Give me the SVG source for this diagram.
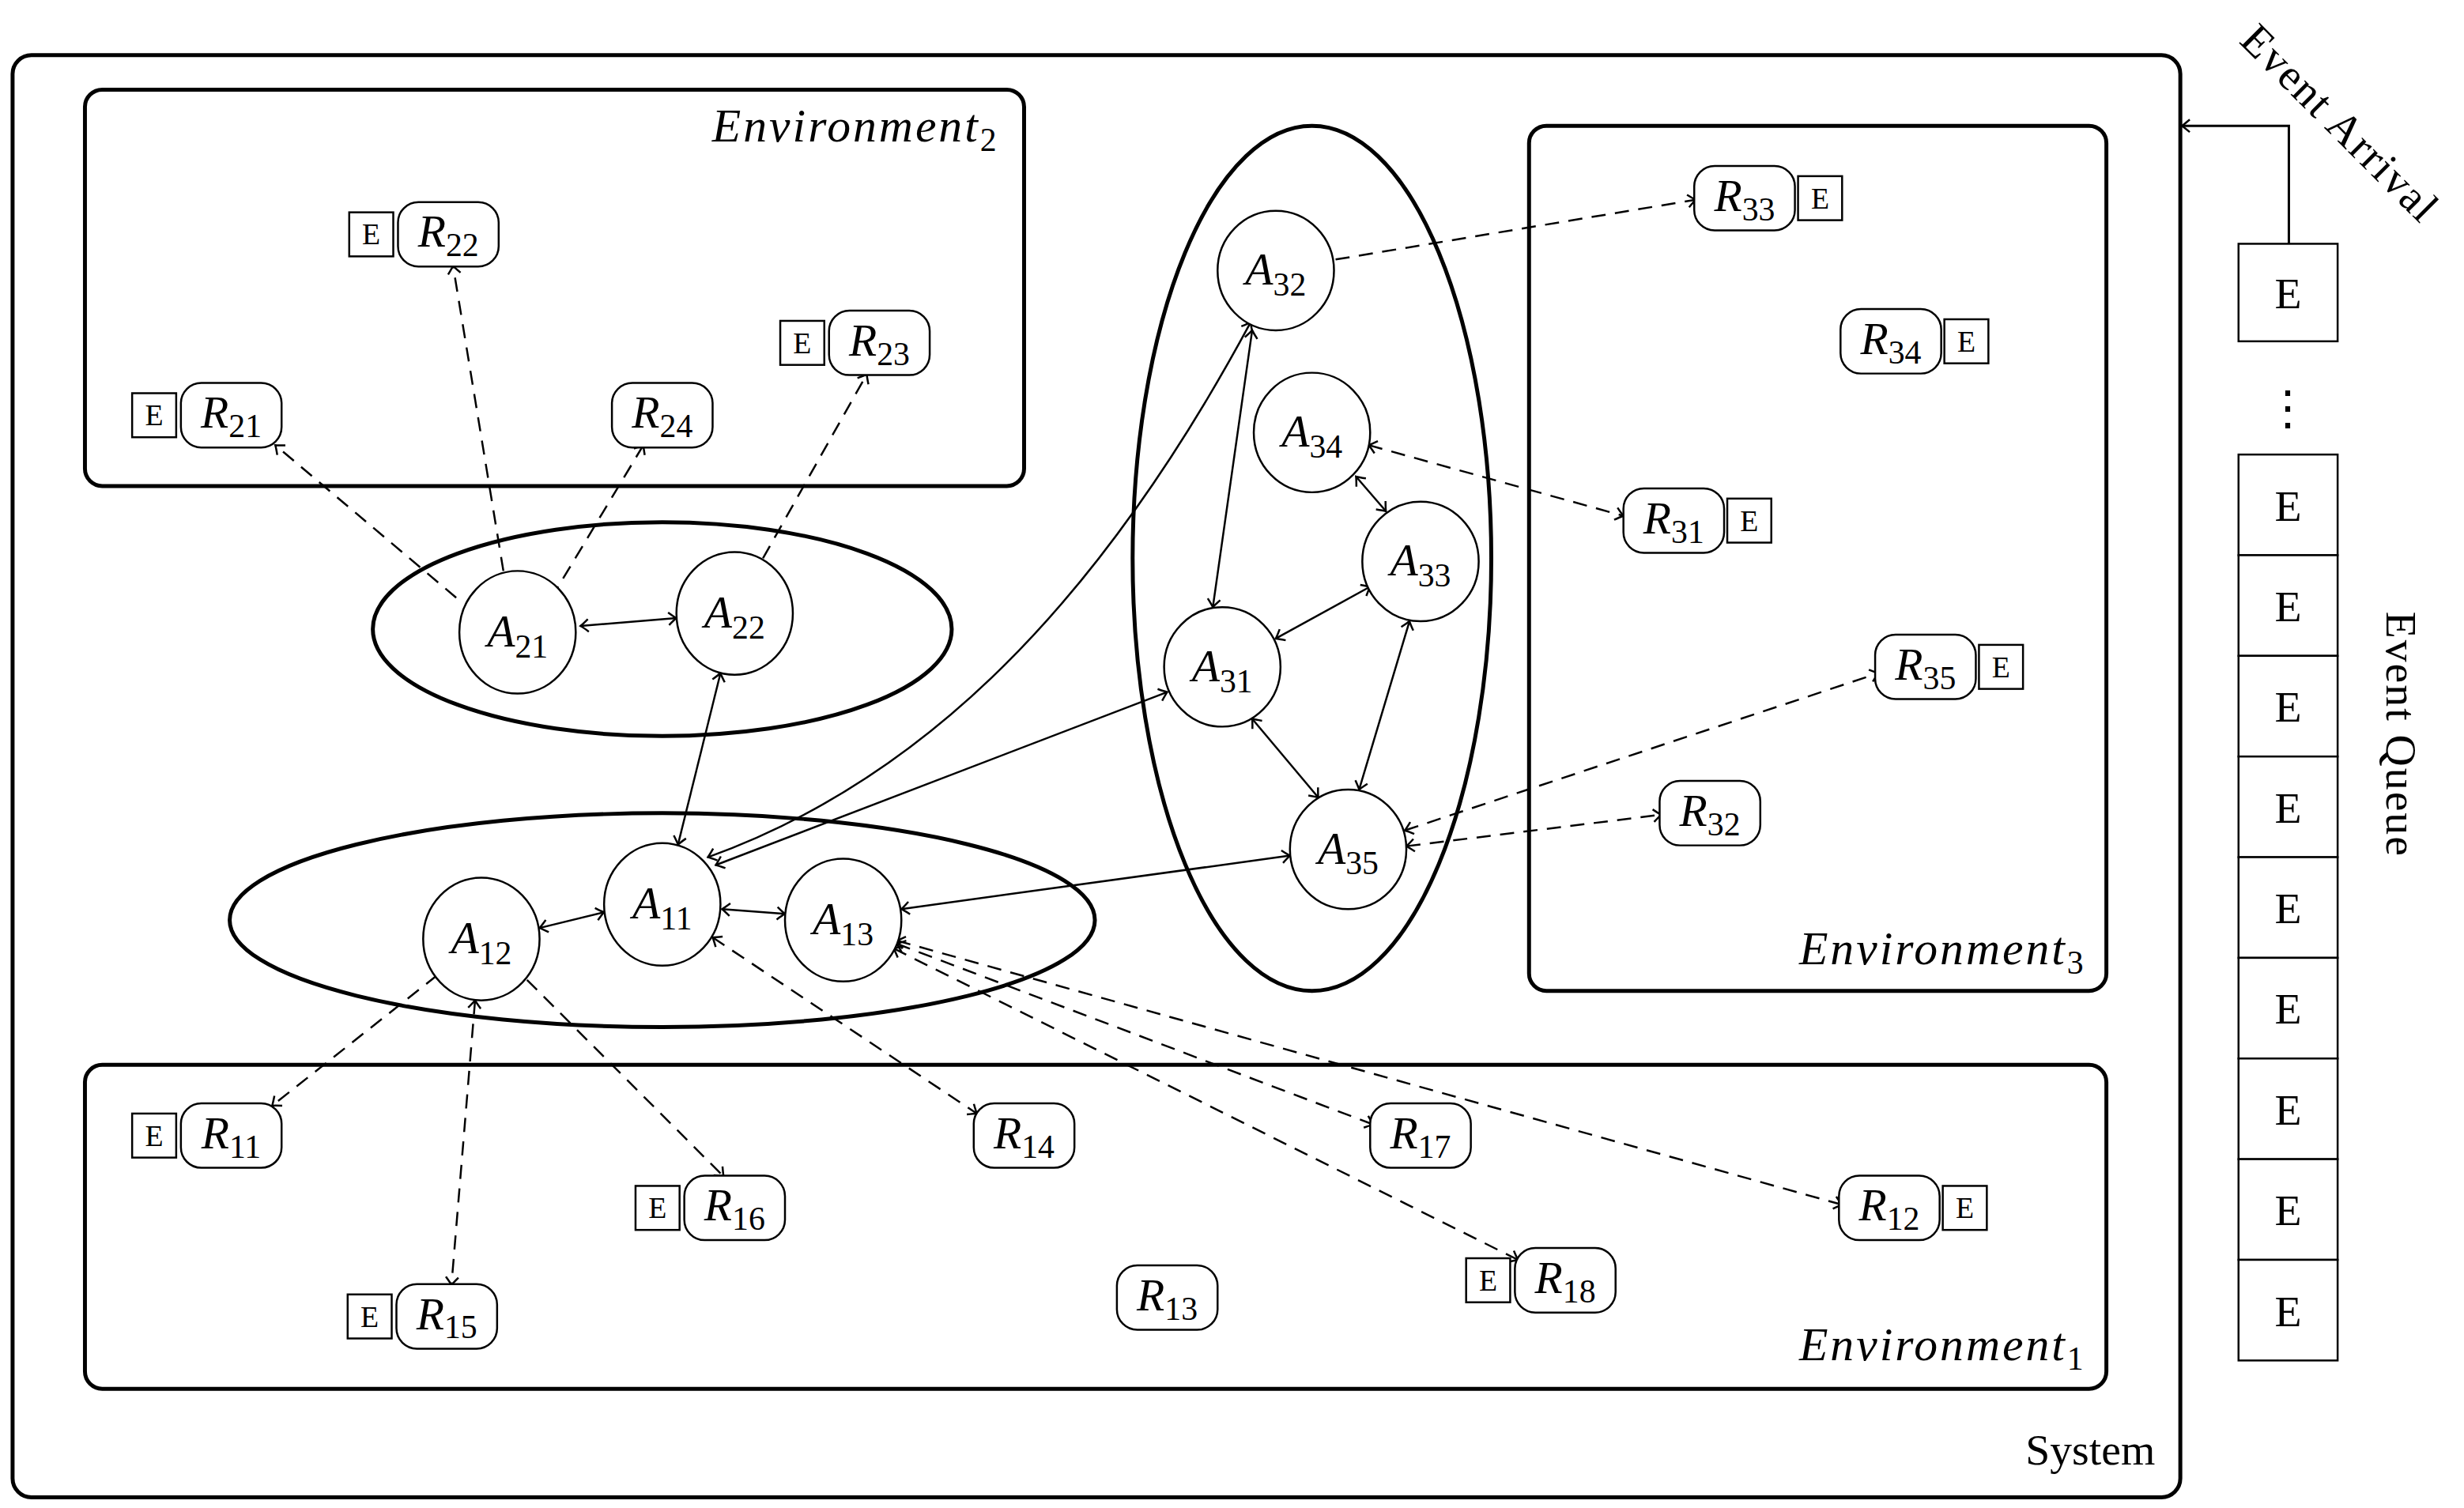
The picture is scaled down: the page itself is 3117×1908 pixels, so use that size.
<svg xmlns="http://www.w3.org/2000/svg" width="3117" height="1908" viewBox="0 0 3117 1908">
<defs>
<marker id="ah" viewBox="-12 -10 14 20" markerWidth="14" markerHeight="20" refX="0" refY="0" orient="auto-start-reverse" markerUnits="userSpaceOnUse">
<path d="M-10,-8 Q-3,-2 0,0 Q-3,2 -10,8" fill="none" stroke="#000" stroke-width="2.5"/>
</marker>
</defs>
<style>
.big{fill:none;stroke:#000;stroke-width:5}
.ag{fill:#fff;stroke:#000;stroke-width:2.5}
.res{fill:#fff;stroke:#000;stroke-width:2.5}
.eb{fill:#fff;stroke:#000;stroke-width:2.5}
.t{font-family:"Liberation Serif",serif;font-style:italic;font-size:58px;text-anchor:middle}
.s{font-style:normal;font-size:42px}
.e{font-family:"Liberation Serif",serif;font-size:38px;text-anchor:middle}
.q{font-family:"Liberation Serif",serif;font-size:56px;text-anchor:middle}
.env{font-family:"Liberation Serif",serif;font-style:italic;font-size:60px;letter-spacing:3px;text-anchor:end}
.sol{fill:none;stroke:#000;stroke-width:2.5;marker-start:url(#ah);marker-end:url(#ah)}
.d1{fill:none;stroke:#000;stroke-width:2.5;stroke-dasharray:18 12;marker-end:url(#ah)}
.d2{fill:none;stroke:#000;stroke-width:2.5;stroke-dasharray:18 12;marker-start:url(#ah);marker-end:url(#ah)}
</style>
<g transform="scale(0.995)">
<g id="system"><rect x="16" y="70" width="2756" height="1834" rx="24" class="big"/><text x="2740" y="1862" class="q" style="text-anchor:end">System</text></g>
<g id="env2"><rect x="108" y="114" width="1194" height="504" rx="22" class="big"/><text x="1270" y="180" class="env">Environment<tspan class="s" dy="12">2</tspan></text></g>
<g id="env3"><rect x="1944" y="160" width="734" height="1100" rx="22" class="big"/><text x="2652" y="1226" class="env">Environment<tspan class="s" dy="12">3</tspan></text></g>
<g id="env1"><rect x="108" y="1354" width="2570" height="412" rx="22" class="big"/><text x="2652" y="1730" class="env">Environment<tspan class="s" dy="12">1</tspan></text></g>
<g id="grp2"><ellipse cx="842" cy="800" rx="368" ry="136" class="big"/></g>
<g id="grp1"><ellipse cx="842" cy="1170" rx="550" ry="136" class="big"/></g>
<g id="grp3"><ellipse cx="1668" cy="710" rx="228" ry="550" class="big"/></g>

<g id="connectors">
<line x1="738" y1="796" x2="860" y2="786" class="sol"/>
<line x1="916" y1="856" x2="862" y2="1074" class="sol"/>
<line x1="686" y1="1180" x2="768" y2="1160" class="sol"/>
<line x1="918" y1="1156" x2="998" y2="1162" class="sol"/>
<path d="M900,1090 C1150,1000 1380,800 1590,410" class="sol"/>
<line x1="910" y1="1100" x2="1484" y2="880" class="sol"/>
<line x1="1146" y1="1156" x2="1640" y2="1088" class="sol"/>
<line x1="1592" y1="420" x2="1542" y2="772" class="sol"/>
<line x1="1724" y1="606" x2="1762" y2="650" class="sol"/>
<line x1="1742" y1="746" x2="1622" y2="812" class="sol"/>
<line x1="1792" y1="790" x2="1728" y2="1004" class="sol"/>
<line x1="1592" y1="914" x2="1676" y2="1014" class="sol"/>
<line x1="580" y1="760" x2="350" y2="566" class="d1"/>
<line x1="640" y1="726" x2="576" y2="338" class="d1"/>
<line x1="818" y1="566" x2="700" y2="762" class="d2"/>
<line x1="970" y1="710" x2="1102" y2="476" class="d1"/>
<line x1="1698" y1="330" x2="2156" y2="254" class="d1"/>
<line x1="1740" y1="566" x2="2064" y2="656" class="d2"/>
<line x1="1786" y1="1056" x2="2388" y2="856" class="d2"/>
<line x1="1788" y1="1076" x2="2112" y2="1036" class="d2"/>
<line x1="556" y1="1240" x2="346" y2="1406" class="d1"/>
<line x1="604" y1="1272" x2="574" y2="1634" class="d2"/>
<line x1="670" y1="1246" x2="920" y2="1496" class="d1"/>
<line x1="906" y1="1192" x2="1242" y2="1416" class="d2"/>
<line x1="1140" y1="1200" x2="1746" y2="1430" class="d2"/>
<line x1="1136" y1="1206" x2="1930" y2="1602" class="d2"/>
<line x1="1140" y1="1196" x2="2342" y2="1532" class="d2"/>
<path d="M2910,310 V160 H2774" fill="none" stroke="#000" stroke-width="3" marker-end="url(#ah)"/>
</g>

<g id="A21"><ellipse cx="658" cy="804" rx="74" ry="78" class="ag"/><text x="658" y="822" class="t">A<tspan class="s" dy="14">21</tspan></text></g>
<g id="A22"><ellipse cx="934" cy="780" rx="74" ry="78" class="ag"/><text x="934" y="798" class="t">A<tspan class="s" dy="14">22</tspan></text></g>
<g id="A11"><ellipse cx="842" cy="1150" rx="74" ry="78" class="ag"/><text x="842" y="1168" class="t">A<tspan class="s" dy="14">11</tspan></text></g>
<g id="A12"><ellipse cx="612" cy="1194" rx="74" ry="78" class="ag"/><text x="612" y="1212" class="t">A<tspan class="s" dy="14">12</tspan></text></g>
<g id="A13"><ellipse cx="1072" cy="1170" rx="74" ry="78" class="ag"/><text x="1072" y="1188" class="t">A<tspan class="s" dy="14">13</tspan></text></g>
<g id="A32"><ellipse cx="1622" cy="344" rx="74" ry="76" class="ag"/><text x="1622" y="362" class="t">A<tspan class="s" dy="14">32</tspan></text></g>
<g id="A34"><ellipse cx="1668" cy="550" rx="74" ry="76" class="ag"/><text x="1668" y="568" class="t">A<tspan class="s" dy="14">34</tspan></text></g>
<g id="A33"><ellipse cx="1806" cy="714" rx="74" ry="76" class="ag"/><text x="1806" y="732" class="t">A<tspan class="s" dy="14">33</tspan></text></g>
<g id="A31"><ellipse cx="1554" cy="848" rx="74" ry="76" class="ag"/><text x="1554" y="866" class="t">A<tspan class="s" dy="14">31</tspan></text></g>
<g id="A35"><ellipse cx="1714" cy="1080" rx="74" ry="76" class="ag"/><text x="1714" y="1098" class="t">A<tspan class="s" dy="14">35</tspan></text></g>

<g id="R22"><rect x="444" y="270" width="56" height="56" class="eb"/><text x="472" y="311" class="e">E</text><rect x="506" y="257" width="128" height="82" rx="26" class="res"/><text x="570" y="314" class="t">R<tspan class="s" dy="12">22</tspan></text></g>
<g id="R21"><rect x="168" y="500" width="56" height="56" class="eb"/><text x="196" y="541" class="e">E</text><rect x="230" y="487" width="128" height="82" rx="26" class="res"/><text x="294" y="544" class="t">R<tspan class="s" dy="12">21</tspan></text></g>
<g id="R23"><rect x="992" y="408" width="56" height="56" class="eb"/><text x="1020" y="449" class="e">E</text><rect x="1054" y="395" width="128" height="82" rx="26" class="res"/><text x="1118" y="452" class="t">R<tspan class="s" dy="12">23</tspan></text></g>
<g id="R24"><rect x="778" y="487" width="128" height="82" rx="26" class="res"/><text x="842" y="544" class="t">R<tspan class="s" dy="12">24</tspan></text></g>
<g id="R33"><rect x="2154" y="211" width="128" height="82" rx="26" class="res"/><text x="2218" y="268" class="t">R<tspan class="s" dy="12">33</tspan></text><rect x="2286" y="224" width="56" height="56" class="eb"/><text x="2314" y="265" class="e">E</text></g>
<g id="R34"><rect x="2340" y="393" width="128" height="82" rx="26" class="res"/><text x="2404" y="450" class="t">R<tspan class="s" dy="12">34</tspan></text><rect x="2472" y="406" width="56" height="56" class="eb"/><text x="2500" y="447" class="e">E</text></g>
<g id="R31"><rect x="2064" y="621" width="128" height="82" rx="26" class="res"/><text x="2128" y="678" class="t">R<tspan class="s" dy="12">31</tspan></text><rect x="2196" y="634" width="56" height="56" class="eb"/><text x="2224" y="675" class="e">E</text></g>
<g id="R35"><rect x="2384" y="807" width="128" height="82" rx="26" class="res"/><text x="2448" y="864" class="t">R<tspan class="s" dy="12">35</tspan></text><rect x="2516" y="820" width="56" height="56" class="eb"/><text x="2544" y="861" class="e">E</text></g>
<g id="R32"><rect x="2110" y="993" width="128" height="82" rx="26" class="res"/><text x="2174" y="1050" class="t">R<tspan class="s" dy="12">32</tspan></text></g>
<g id="R11"><rect x="168" y="1416" width="56" height="56" class="eb"/><text x="196" y="1457" class="e">E</text><rect x="230" y="1403" width="128" height="82" rx="26" class="res"/><text x="294" y="1460" class="t">R<tspan class="s" dy="12">11</tspan></text></g>
<g id="R16"><rect x="808" y="1508" width="56" height="56" class="eb"/><text x="836" y="1549" class="e">E</text><rect x="870" y="1495" width="128" height="82" rx="26" class="res"/><text x="934" y="1552" class="t">R<tspan class="s" dy="12">16</tspan></text></g>
<g id="R15"><rect x="442" y="1646" width="56" height="56" class="eb"/><text x="470" y="1687" class="e">E</text><rect x="504" y="1633" width="128" height="82" rx="26" class="res"/><text x="568" y="1690" class="t">R<tspan class="s" dy="12">15</tspan></text></g>
<g id="R14"><rect x="1238" y="1403" width="128" height="82" rx="26" class="res"/><text x="1302" y="1460" class="t">R<tspan class="s" dy="12">14</tspan></text></g>
<g id="R13"><rect x="1420" y="1609" width="128" height="82" rx="26" class="res"/><text x="1484" y="1666" class="t">R<tspan class="s" dy="12">13</tspan></text></g>
<g id="R17"><rect x="1742" y="1403" width="128" height="82" rx="26" class="res"/><text x="1806" y="1460" class="t">R<tspan class="s" dy="12">17</tspan></text></g>
<g id="R18"><rect x="1864" y="1600" width="56" height="56" class="eb"/><text x="1892" y="1641" class="e">E</text><rect x="1926" y="1587" width="128" height="82" rx="26" class="res"/><text x="1990" y="1644" class="t">R<tspan class="s" dy="12">18</tspan></text></g>
<g id="R12"><rect x="2338" y="1495" width="128" height="82" rx="26" class="res"/><text x="2402" y="1552" class="t">R<tspan class="s" dy="12">12</tspan></text><rect x="2470" y="1508" width="56" height="56" class="eb"/><text x="2498" y="1549" class="e">E</text></g>

<g id="queue">
<rect x="2846" y="310" width="126" height="124" fill="#fff" stroke="#000" stroke-width="2.5"/><text x="2909" y="392" class="q">E</text>
<text x="2909" y="540" class="q" style="font-family:'DejaVu Serif',serif;font-size:60px">⋮</text>
<g fill="#fff" stroke="#000" stroke-width="2.5">
<rect x="2846" y="578" width="126" height="128"/><rect x="2846" y="706" width="126" height="128"/><rect x="2846" y="834" width="126" height="128"/><rect x="2846" y="962" width="126" height="128"/><rect x="2846" y="1090" width="126" height="128"/><rect x="2846" y="1218" width="126" height="128"/><rect x="2846" y="1346" width="126" height="128"/><rect x="2846" y="1474" width="126" height="128"/><rect x="2846" y="1602" width="126" height="128"/>
</g>
<text x="2909" y="662" class="q">E</text><text x="2909" y="790" class="q">E</text><text x="2909" y="918" class="q">E</text><text x="2909" y="1046" class="q">E</text><text x="2909" y="1174" class="q">E</text><text x="2909" y="1302" class="q">E</text><text x="2909" y="1430" class="q">E</text><text x="2909" y="1558" class="q">E</text><text x="2909" y="1686" class="q">E</text>
<text transform="translate(3034,934) rotate(90)" class="q" style="letter-spacing:2px">Event Queue</text>
<text transform="translate(2962,170) rotate(45)" class="q" style="letter-spacing:2px">Event Arrival</text>
</g>
</g>
</svg>
